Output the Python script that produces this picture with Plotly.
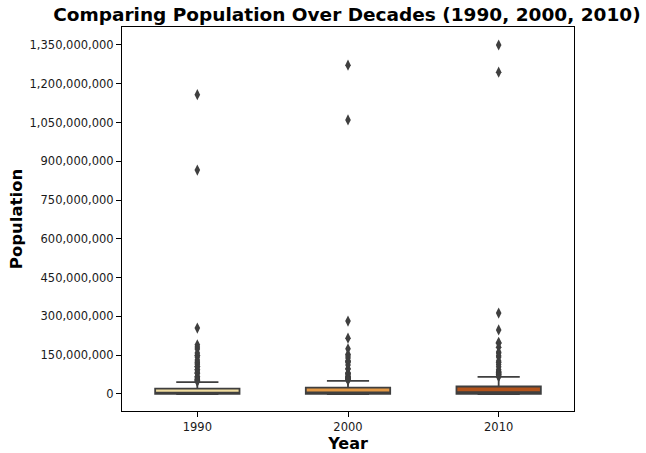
import plotly.graph_objects as go

# decades on the x axis
years = ["1990", "2000", "2010"]

# box statistics per decade (people)
q1_vals = [0.6e6, 0.8e6, 1.0e6]
median_vals = [5.0e6, 6.5e6, 7.5e6]
q3_vals = [21e6, 25e6, 29e6]
lower_fences = [0.01e6, 0.01e6, 0.01e6]
upper_fences = [46e6, 51e6, 66e6]

# points beyond the whiskers (people)
outliers_1990 = [1158e6, 866e6, 255e6, 190e6, 182e6, 174e6, 159e6, 150e6, 143e6, 131e6,
                 124e6, 120e6, 115e6, 107e6, 104e6, 95e6, 93e6, 84e6, 81e6, 79e6,
                 68e6, 66e6, 62e6, 57e6, 56e6, 54e6, 52e6, 48e6]
outliers_2000 = [1272e6, 1060e6, 282e6, 216e6, 175e6, 154e6, 147e6, 139e6, 129e6, 127e6,
                 122e6, 112e6, 98e6, 97e6, 82e6, 79e6, 78e6, 73e6, 68e6, 66e6,
                 64e6, 63e6, 61e6, 59e6, 57e6, 55e6, 53e6]
outliers_2010 = [1350e6, 1245e6, 313e6, 248e6, 200e6, 196e6, 181e6, 162e6, 159e6, 148e6,
                 143e6, 128e6, 122e6, 114e6, 105e6, 94e6, 88e6, 86e6, 83e6, 81e6,
                 78e6, 75e6, 73e6, 70e6, 67e6]

fill_colors = ["#f0dc9f", "#e39844", "#b3531b"]
edge = "#3f3f3f"

fig = go.Figure()

for i, yr in enumerate(years):
    fig.add_trace(
        go.Box(
            x=[yr],
            q1=[q1_vals[i]],
            median=[median_vals[i]],
            q3=[q3_vals[i]],
            lowerfence=[lower_fences[i]],
            upperfence=[upper_fences[i]],
            fillcolor=fill_colors[i],
            line=dict(color=edge, width=1.8),
            whiskerwidth=0.5,
            boxpoints=False,
            showlegend=False,
            hoverinfo="skip",
        )
    )

for yr, pts in zip(years, [outliers_1990, outliers_2000, outliers_2010]):
    fig.add_trace(
        go.Scatter(
            x=[yr] * len(pts),
            y=pts,
            mode="markers",
            marker=dict(symbol="diamond-tall", size=8, color=edge),
            showlegend=False,
            hoverinfo="skip",
        )
    )

fig.update_layout(
    width=646,
    height=453,
    margin=dict(l=122, r=72, t=27, b=42),
    paper_bgcolor="white",
    plot_bgcolor="white",
    font=dict(family="DejaVu Sans", size=11.5, color="#1a1a1a"),
    boxmode="overlay",
    boxgap=0.2,
    title=dict(
        text="<b>Comparing Population Over Decades (1990, 2000, 2010)</b>",
        x=0.537,
        xanchor="center",
        y=0.982,
        yanchor="top",
        font=dict(family="DejaVu Sans", size=18.5, color="#000000"),
    ),
)

fig.update_xaxes(
    type="category",
    categoryorder="array",
    categoryarray=years,
    range=[-0.5, 2.5],
    automargin=False,
    showline=True,
    linecolor="#000000",
    linewidth=1,
    mirror=True,
    ticks="outside",
    ticklen=5,
    tickcolor="#000000",
    showgrid=False,
    zeroline=False,
    title=dict(text="<b>Year</b>", font=dict(size=16, color="#000000"), standoff=6),
)

fig.update_yaxes(
    range=[-65.8e6, 1419.6e6],
    tickvals=[i * 150e6 for i in range(10)],
    tickformat=",",
    automargin=False,
    showline=True,
    linecolor="#000000",
    linewidth=1,
    mirror=True,
    ticks="outside",
    ticklen=5,
    tickcolor="#000000",
    showgrid=False,
    zeroline=False,
    title=dict(text="<b>Population</b>", font=dict(size=16.5, color="#000000"), standoff=2),
)

# drop the page's default body margin so the figure sits at the window corner
fig.write_html(
    "out.html",
    config={"displayModeBar": False},
    post_script="document.body.style.margin='0';",
)
